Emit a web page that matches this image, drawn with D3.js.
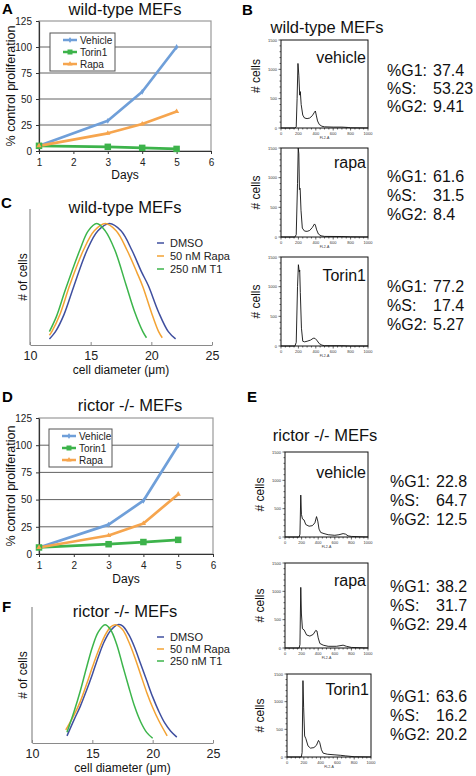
<!DOCTYPE html>
<html><head><meta charset="utf-8">
<script src="https://cdn.jsdelivr.net/npm/d3@7"></script>
<style>body{margin:0;background:#fff;} svg{display:block;font-family:"Liberation Sans",Arial,Helvetica,sans-serif;}</style>
</head><body><svg id="c" width="476" height="776"></svg>
<script>
// ---------------- data ----------------
const days = [1, 3, 4, 5];
const dayTicks = [1, 2, 3, 4, 5, 6];
const profTicks = [0, 25, 50, 75, 100, 125];
const growthSeries = ["Vehicle", "Torin1", "Rapa"];
const wtVehicle = [5, 29, 57, 100];
const wtTorin1 = [5, 4, 3, 2];
const wtRapa = [5, 17, 26, 38];
const rkoVehicle = [6, 27, 49, 100];
const rkoTorin1 = [6, 9, 11, 13];
const rkoRapa = [6, 17, 28, 55];

const sizeSeries = ["DMSO", "50 nM Rapa", "250 nM T1"];
const diamTicks = [10, 15, 20, 25];
const wtDmsoSize = [[11.6,5],[12.1,11],[12.8,25],[13.6,48],[14.7,78],[15.6,94],[16.55,100],[17.5,94],[18.4,78],[19.2,60],[19.75,49],[20.6,27],[21.4,11],[22,5]];
const wtRapaSize = [[11.6,8],[11.8,11],[12.5,26],[13.3,50],[14.4,78],[15.3,94],[16.2,100],[17.1,94],[18.0,78],[18.8,60],[19.3,48],[20.0,27],[20.6,11],[20.9,6]];
const wtT1Size = [[11.6,11],[12.2,24],[12.9,45],[14.1,78],[14.8,94],[15.5,100],[16.2,94],[17.0,78],[17.9,50],[18.6,28],[19.3,11],[19.6,6]];
const rkoDmsoSize = [[12.9,6],[13.5,20],[14,31],[14.5,44],[15,58],[15.5,73],[16,86],[16.5,95],[17.1,100],[17.5,99],[18,92],[18.5,81],[19,67],[19.5,53],[20,39],[20.5,27],[21,17],[21.5,10],[22,5]];
const rkoRapaSize = [[12.8,11],[13.5,24],[14,35],[14.5,49],[15,64],[15.5,78],[16,90],[16.5,98],[16.9,100],[17.5,96],[18,86],[18.5,73],[19,58],[19.5,43],[20,30],[20.5,19],[21.2,6]];
const rkoT1Size = [[12.9,9],[13.5,27],[14,44],[14.5,63],[15,81],[15.5,94],[16.05,100],[16.5,96],[17,84],[17.5,66],[18,48],[18.5,31],[19,18],[19.5,9],[20,4]];

const flowTreatments = ["vehicle", "rapa", "Torin1"];
const flowXTicks = [0, 200, 400, 600, 800, 1000];
const flowYTicks = [0, 500, 1000, 1500];
const wtVehicleHist = [[0,0],[160,0],[175,20],[185,500],[195,1100],[205,900],[215,560],[222,620],[232,400],[250,220],[270,170],[300,160],[330,170],[360,210],[385,270],[395,290],[405,220],[420,120],[440,60],[470,30],[500,20],[600,15],[700,15],[780,8],[800,3],[1000,0]];
const wtRapaHist = [[0,0],[160,0],[175,40],[190,900],[198,1500],[205,1400],[212,800],[220,820],[230,450],[245,150],[270,100],[300,95],[330,110],[360,160],[385,220],[395,200],[410,120],[430,50],[460,20],[500,10],[700,8],[800,3],[1000,0]];
const wtTorinHist = [[0,0],[160,0],[175,60],[190,1000],[200,1370],[210,1250],[215,1280],[222,900],[235,300],[250,80],[270,70],[300,80],[340,100],[370,130],[390,130],[410,100],[440,40],[470,15],[500,5],[700,5],[800,0],[1000,0]];
const rkoVehicleHist = [[0,0],[170,0],[180,50],[190,740],[198,400],[210,320],[230,300],[250,220],[290,190],[330,200],[360,250],[380,360],[395,280],[410,140],[430,80],[470,60],[520,40],[600,30],[650,40],[700,60],[730,50],[760,20],[800,10],[1000,0]];
const rkoRapaHist = [[0,0],[170,0],[180,60],[190,1070],[198,600],[210,340],[230,320],[260,230],[300,210],[340,240],[370,310],[385,300],[400,180],[420,80],[460,50],[520,30],[620,30],[700,50],[740,30],[800,10],[1000,0]];
const rkoTorinHist = [[0,0],[170,0],[180,80],[190,1380],[198,900],[210,380],[225,330],[250,200],[280,160],[320,170],[350,210],[375,300],[390,260],[410,130],[430,70],[480,50],[560,40],[640,30],[700,20],[800,5],[1000,0]];
const statLabels = ["%G1:", "%S:", "%G2:"];
const wtG1 = ["37.4", "61.6", "77.2"];
const wtS = ["53.23", "31.5", "17.4"];
const wtG2 = ["9.41", "8.4", "5.27"];
const rkoG1 = ["22.8", "38.2", "63.6"];
const rkoS = ["64.7", "31.7", "16.2"];
const rkoG2 = ["12.5", "29.4", "20.2"];

// ---------------- drawing ----------------
const svg = d3.select("#c");
svg.append("rect").attr("width", 476).attr("height", 776).attr("fill", "#fff");

function txt(x, y, s, size, o = {}) {
  const t = svg.append("text").attr("x", x).attr("y", y).text(s)
    .attr("font-size", size).attr("fill", o.fill || "#111")
    .attr("text-anchor", o.anchor || "start");
  if (o.bold) t.attr("font-weight", "bold");
  if (o.rot) t.attr("transform", `rotate(-90,${x},${y})`);
  return t;
}

const growthColors = ["#6f9fd9", "#3db34b", "#f6a54e"];

function growth(cfg) {
  const g = svg.append("g");
  const x = d3.scaleLinear().domain([1, 6]).range([cfg.x0, cfg.x1]);
  const y = d3.scaleLinear().domain([0, 125]).range([cfg.y1, cfg.y0]);
  g.append("rect").attr("x", cfg.x0).attr("y", cfg.y0).attr("width", cfg.x1 - cfg.x0)
    .attr("height", cfg.y1 - cfg.y0).attr("fill", "#fff").attr("stroke", "#9a9a9a").attr("stroke-width", 1.2);
  g.selectAll(".gl").data(profTicks.filter(v => v > 0 && v < 125)).join("line")
    .attr("x1", cfg.x0).attr("x2", cfg.x1).attr("y1", d => y(d)).attr("y2", d => y(d))
    .attr("stroke", "#505050").attr("stroke-width", 0.9);
  const xa = g.append("g").attr("transform", `translate(0,${cfg.y1})`)
    .call(d3.axisBottom(x).tickValues(dayTicks).tickSize(3).tickSizeOuter(0).tickFormat(d3.format("d")));
  const ya = g.append("g").attr("transform", `translate(${cfg.x0},0)`)
    .call(d3.axisLeft(y).tickValues(profTicks).tickSize(3).tickSizeOuter(0));
  [xa, ya].forEach(a => {
    a.select(".domain").attr("stroke", "#333").attr("stroke-width", 1.2);
    a.selectAll(".tick line").attr("stroke", "#333");
    a.selectAll(".tick text").attr("font-size", 10).attr("fill", "#222")
      .attr("font-family", '"Liberation Sans", Arial, sans-serif');
  });
  xa.selectAll(".tick text").attr("dy", "0.9em");
  ya.selectAll(".tick text").attr("dx", "-1");

  const line = d3.line().x((d, i) => x(days[i])).y(d => y(d));
  cfg.series.forEach((vals, k) => {
    g.append("path").datum(vals).attr("d", line).attr("fill", "none")
      .attr("stroke", growthColors[k]).attr("stroke-width", 2.7).attr("stroke-linejoin", "round");
  });
  cfg.series.forEach((vals, k) => {
    vals.forEach((v, i) => marker(g, k, x(days[i]), y(v)));
  });
  const L = cfg.legend;
  g.append("rect").attr("x", L.x).attr("y", L.y).attr("width", L.w).attr("height", L.h)
    .attr("fill", "#fff").attr("stroke", "#555").attr("stroke-width", 1);
  growthSeries.forEach((name, k) => {
    const yy = L.rows[k];
    g.append("line").attr("x1", L.lx0).attr("x2", L.lx1).attr("y1", yy).attr("y2", yy)
      .attr("stroke", growthColors[k]).attr("stroke-width", 2.5);
    marker(g, k, (L.lx0 + L.lx1) / 2, yy, true);
    g.append("text").attr("x", L.tx).attr("y", yy + 3.5).text(name).attr("font-size", 10).attr("fill", "#222");
  });
  txt((cfg.x0 + cfg.x1) / 2 + cfg.tdx, cfg.ty, cfg.title, 16.5, { anchor: "middle" });
  txt(cfg.ylx, (cfg.y0 + cfg.y1) / 2, "% control proliferation", 12.5, { anchor: "middle", rot: true });
  txt((cfg.x0 + cfg.x1) / 2, cfg.dy, "Days", 12, { anchor: "middle" });
}

function marker(g, k, cx, cy, small) {
  if (k === 1) {
    const s = small ? 5 : 6.5;
    g.append("rect").attr("x", cx - s / 2).attr("y", cy - s / 2).attr("width", s).attr("height", s).attr("fill", growthColors[1]);
  } else if (k === 0) {
    g.append("path").attr("d", d3.symbol(d3.symbolDiamond, 10)()).attr("transform", `translate(${cx},${cy})`).attr("fill", growthColors[0]);
  } else {
    g.append("path").attr("d", d3.symbol(d3.symbolTriangle, 12)()).attr("transform", `translate(${cx},${cy})`).attr("fill", growthColors[2]);
  }
}

growth({ x0: 39, x1: 211, y0: 21, y1: 151, title: "wild-type MEFs", tdx: 0, ty: 15,
  series: [wtVehicle, wtTorin1, wtRapa], ylx: 15, dy: 179,
  legend: { x: 50, y: 33, w: 65, h: 38, rows: [40, 52, 64], lx0: 63, lx1: 77, tx: 80 } });
growth({ x0: 39, x1: 213, y0: 418, y1: 554, title: "rictor -/- MEFs", tdx: 4, ty: 411,
  series: [rkoVehicle, rkoTorin1, rkoRapa], ylx: 15, dy: 583,
  legend: { x: 49, y: 429, w: 63, h: 38, rows: [436, 448, 460], lx0: 62, lx1: 76, tx: 79 } });

const sizeColors = ["#3f4f9f", "#f3a334", "#3cb54b"];

function sizePanel(cfg) {
  const g = svg.append("g");
  const x = d3.scaleLinear().domain([10, 25]).range([cfg.x0, cfg.x1]);
  const y = d3.scaleLinear().domain([0, cfg.ymax]).range([cfg.y1, cfg.y0]);
  const xa = g.append("g").attr("transform", `translate(0,${cfg.y1})`)
    .call(d3.axisBottom(x).tickValues(diamTicks).tickSize(-3).tickSizeOuter(0));
  xa.select(".domain").attr("stroke", "#8a8a8a").attr("stroke-width", 1.2);
  xa.selectAll(".tick line").attr("stroke", "#8a8a8a");
  xa.selectAll(".tick text").attr("font-size", 12.5).attr("fill", "#222").attr("dy", "0.95em")
    .attr("font-family", '"Liberation Sans", Arial, sans-serif');
  g.append("line").attr("x1", cfg.x0).attr("x2", cfg.x0).attr("y1", cfg.y0).attr("y2", cfg.y1)
    .attr("stroke", "#8a8a8a").attr("stroke-width", 1.2);
  const line = d3.line().x(d => x(d[0])).y(d => y(d[1])).curve(d3.curveCatmullRom);
  [cfg.d, cfg.r, cfg.t].forEach((ser, k) => {
    g.append("path").datum(ser).attr("d", line).attr("fill", "none")
      .attr("stroke", sizeColors[k]).attr("stroke-width", 1.5);
  });
  sizeSeries.forEach((name, k) => {
    const yy = cfg.rows[k];
    g.append("line").attr("x1", 157).attr("x2", 164).attr("y1", yy).attr("y2", yy)
      .attr("stroke", sizeColors[k]).attr("stroke-width", 1.5);
    g.append("text").attr("x", 170).attr("y", yy + 4).text(name).attr("font-size", 11).attr("fill", "#222");
  });
  txt(cfg.tx, cfg.ty, cfg.title, 16.5, { anchor: "middle" });
  txt(27, (cfg.y0 + cfg.y1) / 2, "# of cells", 12, { anchor: "middle", rot: true });
  txt((cfg.x0 + cfg.x1) / 2, cfg.xly, "cell diameter (\u03bcm)", 12, { anchor: "middle" });
}

sizePanel({ x0: 30, x1: 212, y0: 209, y1: 345, ymax: 112, title: "wild-type MEFs", tx: 125, ty: 213,
  d: wtDmsoSize, r: wtRapaSize, t: wtT1Size, rows: [243, 256, 269], xly: 374 });
sizePanel({ x0: 32, x1: 213, y0: 607, y1: 743, ymax: 115, title: "rictor -/- MEFs", tx: 125, ty: 617,
  d: rkoDmsoSize, r: rkoRapaSize, t: rkoT1Size, rows: [637, 649, 661], xly: 772 });

function histo(cfg) {
  const g = svg.append("g");
  const x = d3.scaleLinear().domain([0, 1000]).range([cfg.x0, cfg.x1]);
  const y = d3.scaleLinear().domain([0, 1500]).range([cfg.y1, cfg.y0]);
  d3.range(0, 1001, 50).forEach(v => {
    g.append("line").attr("x1", x(v)).attr("x2", x(v)).attr("y1", cfg.y1)
      .attr("y2", cfg.y1 + (v % 200 === 0 ? 2.5 : 1.5)).attr("stroke", "#000").attr("stroke-width", 0.6);
  });
  d3.range(0, 1501, 100).forEach(v => {
    g.append("line").attr("y1", y(v)).attr("y2", y(v)).attr("x1", cfg.x0)
      .attr("x2", cfg.x0 - (v % 500 === 0 ? 2.5 : 1.5)).attr("stroke", "#000").attr("stroke-width", 0.6);
  });
  flowXTicks.forEach(v => g.append("text").attr("x", x(v)).attr("y", cfg.y1 + 7).text(v)
    .attr("font-size", 4).attr("text-anchor", "middle").attr("fill", "#333"));
  flowYTicks.forEach(v => g.append("text").attr("x", cfg.x0 - 4).attr("y", y(v) + 1.5).text(v)
    .attr("font-size", 4).attr("text-anchor", "end").attr("fill", "#333"));
  g.append("text").attr("x", (cfg.x0 + cfg.x1) / 2).attr("y", cfg.y1 + 10.5).text("FL2-A")
    .attr("font-size", 3.5).attr("text-anchor", "middle").attr("fill", "#333");
  const line = d3.line().x(d => x(d[0])).y(d => y(d[1]));
  g.append("path").datum(cfg.data).attr("d", line).attr("fill", "none")
    .attr("stroke", "#111").attr("stroke-width", 0.9).attr("stroke-linejoin", "round");
  g.append("rect").attr("x", cfg.x0).attr("y", cfg.y0).attr("width", cfg.x1 - cfg.x0)
    .attr("height", cfg.y1 - cfg.y0).attr("fill", "none").attr("stroke", "#111").attr("stroke-width", 1);
  txt(cfg.x1 - 2, cfg.lby, cfg.label, 16, { anchor: "end" });
  txt(cfg.clx, (cfg.y0 + cfg.y1) / 2 + cfg.cdy, "# cells", 12, { anchor: "middle", rot: true });
  cfg.stats.forEach((v, i) => {
    txt(cfg.sx, cfg.sy[i], statLabels[i], 16);
    txt(cfg.vx, cfg.sy[i], v, 16);
  });
}

const wtHists = [wtVehicleHist, wtRapaHist, wtTorinHist];
const wtBoxes = [[40, 128, 63, [76, 94, 112], -8], [148, 237, 168, [182, 201, 220], 0], [257, 346, 281, [292, 311, 330], 0]];
wtBoxes.forEach((b, i) => histo({ x0: 281, x1: 368, y0: b[0], y1: b[1], data: wtHists[i], label: flowTreatments[i],
  lby: b[2], clx: 260, cdy: b[4], stats: [wtG1[i], wtS[i], wtG2[i]], sx: 387, vx: 433, sy: b[3] }));

const rkoHists = [rkoVehicleHist, rkoRapaHist, rkoTorinHist];
const rkoBoxes = [[285, 368, 452, 537, 478, [487, 506, 525]], [285, 368, 563, 648, 586, [592, 611, 630]], [287, 371, 674, 757, 695, [702, 721, 740]]];
rkoBoxes.forEach((b, i) => histo({ x0: b[0], x1: b[1], y0: b[2], y1: b[3], data: rkoHists[i], label: flowTreatments[i],
  lby: b[4], clx: 264, cdy: 0, stats: [rkoG1[i], rkoS[i], rkoG2[i]], sx: 390, vx: 436, sy: b[5] }));

txt(327, 33, "wild-type MEFs", 16.5, { anchor: "middle" });
txt(325, 441, "rictor -/- MEFs", 16.5, { anchor: "middle" });

[["A", 2, 14], ["B", 242, 15], ["C", 1, 208], ["D", 2, 402], ["E", 247, 402], ["F", 2, 612]].forEach(p =>
  txt(p[1], p[2], p[0], 15, { bold: true, fill: "#000" }));
</script></body></html>
